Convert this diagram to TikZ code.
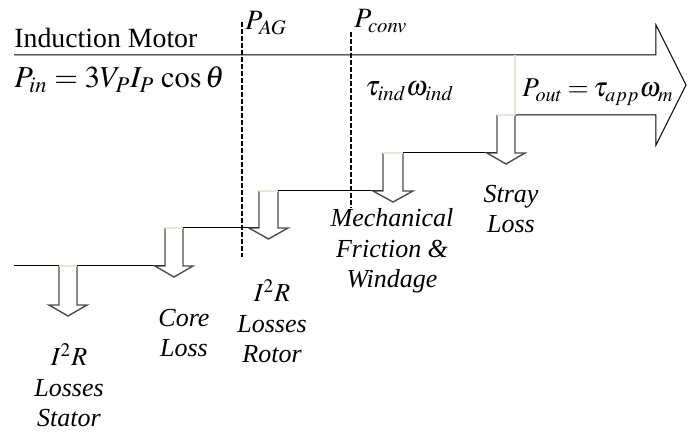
\documentclass[tikz,border=0pt]{standalone}
\usepackage{mathptmx}
\usepackage{fontspec}
\setmainfont{Liberation Serif}
\definecolor{gapline}{HTML}{E6E6D4}
\usetikzlibrary{calc}

% loss arrow: left x, right x, top y, bottom of shaft
\newcommand{\lossarr}[4]{%
  \draw[shaft] (#1,#3) -- (#1,#4) -- ++(-10,0) -- ++({(#2-#1)/2+10},11)
    -- ++({(#2-#1)/2+10},-11) -- ++(-10,0) -- (#2,#3);
  \draw[gap] (#1,#3) -- (#2,#3);
}

\begin{document}
\begin{tikzpicture}[x=0.5pt, y=-0.5pt, line join=miter]
    \tikzstyle{flow}=[draw=black, line width=0.5pt]
    \tikzstyle{shaft}=[draw=black!70, line width=0.7pt]
    \tikzstyle{gap}=[draw=gapline, line width=0.7pt]
    \tikzstyle{cut}=[draw=black, line width=0.6pt, dash pattern=on 2.5pt off 1pt]
    \tikzstyle{lbl}=[inner sep=0pt, font=\fontsize{13.9}{16}\selectfont]
    \tikzstyle{eq}=[inner sep=0pt, font=\fontsize{14}{16}\selectfont]
    \tikzstyle{loss}=[inner sep=0pt, align=center, font=\fontsize{13}{15.25}\selectfont\itshape]

    \useasboundingbox (0,0) rectangle (693,433);

    % power flow band
    \draw[flow] (515,115) -- (656,115) -- (656,145) -- (686,85) -- (656,25) -- (656,55) -- (14,55);
    \draw[gap] (515,55) -- (515,115);

    \draw[flow] (14,266)  -- (59,266);
    \draw[flow] (77,266)  -- (165,266);
    \draw[flow] (183,228) -- (259,228);
    \draw[flow] (278,191) -- (383,191);
    \draw[flow] (403,153) -- (497,153);

    \lossarr{59}{77}{266}{305}
    \lossarr{165}{183}{228}{266}
    \lossarr{259}{278}{191}{228}
    \lossarr{383}{403}{153}{191}
    \lossarr{497}{515}{115}{153}

    % air gap and conversion cuts
    \draw[cut] (242,22) -- (242,257);
    \draw[cut] (351,32) -- (351,208);

    \node[lbl, anchor=base west] (title) at (14,48) {Induction Motor};
    \node[eq, anchor=base west, font=\fontsize{15.2}{17}\selectfont] (pin) at (14,88)
      {$P_{in}=3V_P I_P\,\cos\theta$};
    \node[eq, anchor=base west]  (pag)   at (245,30) {$P_{AG}$};
    \node[eq, anchor=base west]  (pconv) at (354,28) {$P_{conv}$};
    \node[eq, anchor=base west]  (tind)  at (365,96) {$\tau_{ind}\omega_{ind}$};
    \node[eq, anchor=base west, font=\fontsize{13.6}{16}\selectfont] (pout) at (522,97)
      {$\thickmuskip=3mu P_{out}=\tau_{app}\omega_m$};

    \node[loss, anchor=base] (stator) at (69,427)  {$I^2R$\\Losses\\Stator};
    \node[loss, anchor=base] (core)   at (184,357) {Core\\Loss};
    \node[loss, anchor=base] (rotor)  at (272,363) {$I^2R$\\Losses\\Rotor};
    \node[loss, anchor=base] (mech)   at (392,288) {Mechanical\\Friction \&\\Windage};
    \node[loss, anchor=base] (stray)  at (511,233) {Stray\\Loss};
  \end{tikzpicture}
\end{document}
